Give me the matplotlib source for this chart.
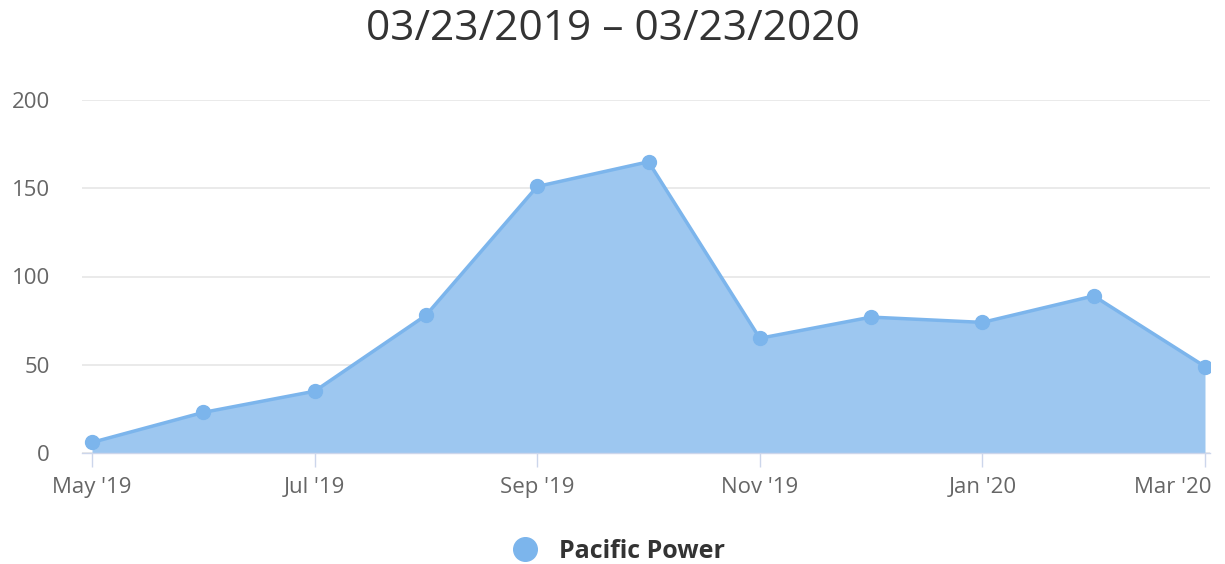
import matplotlib.pyplot as plt
import matplotlib.transforms as mtransforms
from matplotlib.lines import Line2D

plt.rcParams['font.family'] = ['Open Sans', 'DejaVu Sans']

months = ['May', 'Jun', 'Jul', 'Aug', 'Sep', 'Oct', 'Nov', 'Dec', 'Jan', 'Feb', 'Mar']
years = ['19', '19', '19', '19', '19', '19', '19', '19', '20', '20', '20']
values = [6, 23, 35, 78, 151, 165, 65, 77, 74, 89, 49]
series_name = 'Pacific Power'
title = '03/23/2019 \u2013 03/23/2020'

line_col = '#7cb5ec'
fill_col = '#9dc7f0'

fig = plt.figure(figsize=(12.25, 5.64), dpi=100)
ax = fig.add_axes([82 / 1225, 111 / 564, 1128 / 1225, 353 / 564])

x = list(range(len(values)))
ax.fill_between(x, values, 0, color=fill_col, linewidth=0, zorder=2)
ax.plot(x, values, color=line_col, linewidth=2.5, marker='o', markersize=10, zorder=3)

ax.set_xlim(-0.09, 10.045)
ax.set_ylim(0, 200)
ax.set_yticks([0, 50, 100, 150, 200])
ax.grid(axis='y', color='#e6e6e6', linewidth=1.2, zorder=0)
ax.set_axisbelow(True)

tick_pos = x[::2]
ax.set_xticks(tick_pos)
ax.set_xticklabels([f"{months[i]} '{years[i]}" for i in tick_pos])
ax.tick_params(axis='x', length=10, width=1, color='#ccd6eb', labelsize=16, labelcolor='#666666', pad=7)
ax.tick_params(axis='y', length=0, labelsize=16, labelcolor='#666666', pad=23)

# keep the last label inside the figure, like the original
last = ax.get_xticklabels()[-1]
last.set_horizontalalignment('right')
last.set_transform(last.get_transform() + mtransforms.ScaledTranslation(7 / 100, 0, fig.dpi_scale_trans))

for s in ['top', 'right', 'left']:
    ax.spines[s].set_visible(False)
ax.spines['bottom'].set_color('#ccd6eb')
ax.spines['bottom'].set_linewidth(1)

fig.text(0.5, 0.948, title, ha='center', va='center', fontsize=30.5, color='#333333')

handle = Line2D([], [], color=line_col, marker='o', linestyle='None', markersize=17)
fig.legend([handle], [series_name], loc='center', bbox_to_anchor=(0.5, 0.022),
           frameon=False, prop={'size': 18, 'weight': 'bold'}, handletextpad=0.35,
           labelcolor='#333333')

fig.savefig('out.png', dpi=100)
